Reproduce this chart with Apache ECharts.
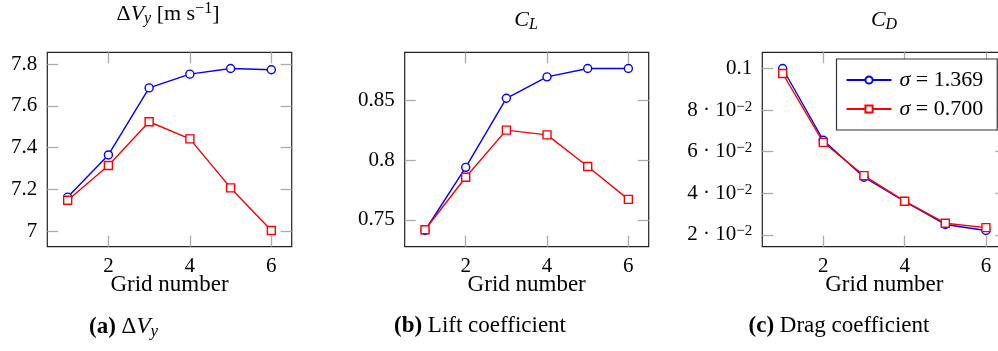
<!DOCTYPE html>
<html>
<head>
<meta charset="utf-8">
<script src="https://cdn.jsdelivr.net/npm/echarts@6/dist/echarts.min.js"></script>
<style>
  html, body { margin: 0; padding: 0; background: #fff; }
  #chart { width: 998px; height: 351px; }
</style>
</head>
<body>
<div id="chart"></div>
<script>
// Grid refinement study: three panels sharing the grid-number axis
const gridNumbers = [1, 2, 3, 4, 5, 6];
const seriesNames = ['σ = 1.369', 'σ = 0.700'];

// (a) ΔV_y [m s^-1]
const dvySigma1369 = [7.163, 7.365, 7.686, 7.752, 7.779, 7.773];
const dvySigma0700 = [7.148, 7.314, 7.524, 7.442, 7.207, 7.003];
// (b) lift coefficient
const clSigma1369 = [0.741, 0.794, 0.852, 0.870, 0.877, 0.877];
const clSigma0700 = [0.7416, 0.7857, 0.8253, 0.8213, 0.7947, 0.7671];
// (c) drag coefficient
const cdSigma1369 = [0.1, 0.0655, 0.0477, 0.0361, 0.0250, 0.0221];
const cdSigma0700 = [0.0976, 0.0645, 0.0485, 0.0362, 0.0256, 0.0235];

// tick positions
const xTicks = [2, 4, 6];
const dvyTicks = [7, 7.2, 7.4, 7.6, 7.8];
const clTicks = [0.75, 0.8, 0.85];
const cdTicks = [0.02, 0.04, 0.06, 0.08, 0.1];

const FONT = '"Liberation Serif", "DejaVu Serif", serif';
const FS = 21;       // tick labels
const FS_NAME = 23;  // axis names, captions
const FS_TITLE = 22; // panel titles
const TICK_COLOR = '#ababab';
const BLUE = '#0000ff';
const RED = '#ff0000';

const grids = [
  { left: 47.3, top: 52.3, width: 244.4, height: 194.4 },
  { left: 404.7, top: 52.3, width: 244.0, height: 194.4 },
  { left: 762.3, top: 52.3, width: 244.0, height: 194.4 }
].map(g => Object.assign(g, {
  show: true, borderColor: '#222', borderWidth: 1.2,
  backgroundColor: 'transparent', outerBoundsMode: 'none', containLabel: false
}));

function pairs(ys) { return gridNumbers.map((x, i) => [x, ys[i]]); }

// 10 % enlargement of the data range for the y limits
function yRange(a, b) {
  const all = a.concat(b);
  const lo = Math.min(...all), hi = Math.max(...all);
  const pad = (hi - lo) * 0.1;
  return [lo - pad, hi + pad];
}

const tickStyle = { color: TICK_COLOR, width: 1.3 };
const textBase = { fontFamily: FONT, fontSize: FS, color: '#000' };

function xAxes(gi) {
  const common = { type: 'value', gridIndex: gi, min: 0.5, max: 6.5,
    axisLine: { show: false }, splitLine: { show: false } };
  return [
    Object.assign({}, common, {
      position: 'bottom',
      axisTick: { show: true, inside: true, length: 11, customValues: xTicks, lineStyle: tickStyle },
      axisLabel: Object.assign({ customValues: xTicks, margin: 9 }, textBase),
      name: 'Grid number', nameLocation: 'middle', nameGap: 27, nameMoveOverlap: false,
      nameTextStyle: { fontFamily: FONT, fontSize: FS_NAME, color: '#000' }
    }),
    Object.assign({}, common, {
      position: 'top',
      axisTick: { show: true, inside: true, length: 11, customValues: xTicks, lineStyle: tickStyle },
      axisLabel: { show: false }
    })
  ];
}

function yAxes(gi, range, ticks, formatter, rich) {
  const common = { type: 'value', gridIndex: gi, min: range[0], max: range[1],
    axisLine: { show: false }, splitLine: { show: false } };
  const lbl = Object.assign({ customValues: ticks, margin: 10, lineHeight: 22 }, textBase);
  if (formatter) lbl.formatter = formatter;
  if (rich) lbl.rich = rich;
  return [
    Object.assign({}, common, {
      position: 'left',
      axisTick: { show: true, inside: true, length: 11, customValues: ticks, lineStyle: tickStyle },
      axisLabel: lbl
    }),
    Object.assign({}, common, {
      position: 'right',
      axisTick: { show: true, inside: true, length: 11, customValues: ticks, lineStyle: tickStyle },
      axisLabel: { show: false }
    })
  ];
}

const supRich = {
  sup: { fontFamily: FONT, fontSize: 15, lineHeight: 15, padding: [0, 0, 8, 0],
         verticalAlign: 'top', color: '#000' }
};
const cdFormatter = v => {
  if (Math.abs(v - 0.1) < 1e-9) return '0.1';
  return Math.round(v * 100) + ' · 10{sup|−2}';
};

function lineSeries(name, gi, ys, color, symbol) {
  return {
    type: 'line', name: name, xAxisIndex: gi * 2, yAxisIndex: gi * 2,
    data: pairs(ys), symbol: symbol, symbolSize: 8, showSymbol: true,
    lineStyle: { color: color, width: 1.4 },
    itemStyle: { color: '#fff', borderColor: color, borderWidth: 1.4 },
    emphasis: { disabled: true }, animation: false, z: 3
  };
}

const panels = [
  [dvySigma1369, dvySigma0700],
  [clSigma1369, clSigma0700],
  [cdSigma1369, cdSigma0700]
];

const series = [];
panels.forEach((p, gi) => {
  series.push(lineSeries(seriesNames[0], gi, p[0], BLUE, 'circle'));
  series.push(lineSeries(seriesNames[1], gi, p[1], RED, 'rect'));
});

// rich styles for titles and captions
function richSet(size, subSize) {
  return {
    n: { fontFamily: FONT, fontSize: size, lineHeight: 26, fill: '#000' },
    it: { fontFamily: FONT, fontSize: size, fontStyle: 'italic', lineHeight: 26, fill: '#000' },
    b: { fontFamily: FONT, fontSize: size, fontWeight: 'bold', lineHeight: 26, fill: '#000' },
    sub: { fontFamily: FONT, fontSize: subSize, fontStyle: 'italic', lineHeight: subSize,
           padding: [9, 0, 0, 0], verticalAlign: 'bottom', fill: '#000' },
    sup: { fontFamily: FONT, fontSize: subSize, lineHeight: subSize,
           padding: [0, 0, 9, 0], verticalAlign: 'top', fill: '#000' }
  };
}

function label(x, y, text, size) {
  return {
    type: 'text', x: x, y: y, silent: true,
    style: { text: text, rich: richSet(size, Math.round(size * 0.72)), fontFamily: FONT, fontSize: size,
             fill: '#000', align: 'center', verticalAlign: 'middle' }
  };
}

const option = {
  animation: false,
  backgroundColor: '#fff',
  grid: grids,
  xAxis: [].concat(xAxes(0), xAxes(1), xAxes(2)),
  yAxis: [].concat(
    yAxes(0, yRange(dvySigma1369, dvySigma0700), dvyTicks),
    yAxes(1, yRange(clSigma1369, clSigma0700), clTicks),
    yAxes(2, yRange(cdSigma1369, cdSigma0700), cdTicks, cdFormatter, supRich)
  ),
  legend: {
    data: seriesNames, orient: 'vertical', left: 836.5, top: 59,
    itemWidth: 45, itemHeight: 9, itemGap: 7,
    padding: [10, 14, 10, 9],
    borderColor: '#333', borderWidth: 1.2, backgroundColor: '#fff',
    selectedMode: false,
    textStyle: { fontFamily: FONT, fontSize: 22, color: '#000', lineHeight: 21,
      padding: [0, 0, 0, 3],
      rich: { i: { fontFamily: FONT, fontSize: 22, fontStyle: 'italic', color: '#000', lineHeight: 21 } } },
    formatter: name => name.replace('σ', '{i|σ}')
  },
  graphic: [
    label(168, 14, '{n|Δ}{it|V}{sub|y}{n| [m s}{sup|−1}{n|]}', FS_TITLE),
    label(526, 20, '{it|C}{sub|L}', FS_TITLE),
    label(884, 20, '{it|C}{sub|D}', FS_TITLE),
    label(123.5, 327, '{b|(a)}{n| Δ}{it|V}{sub|y}', FS_NAME),
    label(480, 326, '{b|(b)}{n| Lift coefficient}', FS_NAME),
    label(839, 326, '{b|(c)}{n| Drag coefficient}', FS_NAME)
  ],
  series: series
};

const chart = echarts.init(document.getElementById('chart'), null, { renderer: 'canvas' });
chart.setOption(option);
</script>
</body>
</html>
